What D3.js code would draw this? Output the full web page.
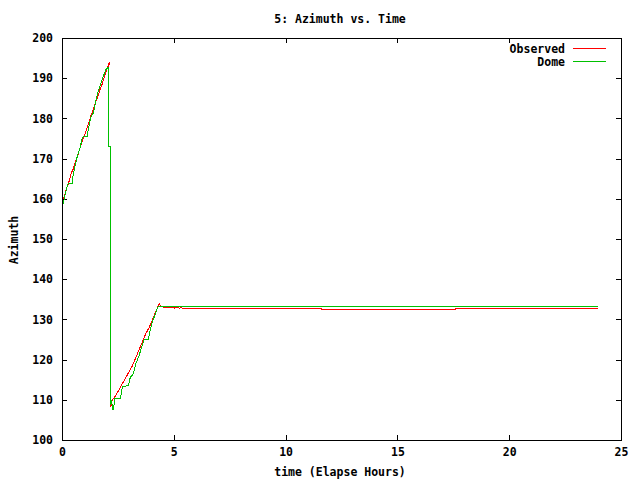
<!DOCTYPE html>
<html>
<head>
<meta charset="utf-8">
<script src="https://cdn.jsdelivr.net/npm/d3@7/dist/d3.min.js"></script>
<style>
html,body{margin:0;padding:0;background:#fff;}
svg text{font-family:"DejaVu Sans Mono","Liberation Mono",monospace;font-weight:bold;font-size:11.5px;fill:#000;}
</style>
</head>
<body>
<svg id="chart" width="640" height="480"></svg>
<script>
// ---- data ----
const title = "5: Azimuth vs. Time";
const xLabel = "time (Elapse Hours)";
const yLabel = "Azimuth";
const xTicks = [0, 5, 10, 15, 20, 25];
const yTicks = [100, 110, 120, 130, 140, 150, 160, 170, 180, 190, 200];
const seriesNames = ["Observed", "Dome"];

const obsTime = [0.00,0.10,0.20,0.30,0.40,0.50,0.60,0.70,0.80,0.90,1.00,1.10,1.20,1.30,1.40,1.50,1.60,1.70,1.80,1.90,2.00,2.08,2.12,
  2.07,2.07,2.16,2.16,2.19,2.19,2.16,2.16,2.19,2.19,2.25,2.40,2.55,2.70,2.85,3.00,3.15,3.30,3.45,3.60,3.75,3.90,4.05,4.20,4.35,4.42,4.60,5.00,5.05,5.10,5.20,5.25,5.30,5.40,5.50,11.60,11.60,17.60,17.60,23.96];
const obsAz = [159.6,160.6,162.6,164.0,166.2,167.4,169.2,170.6,172.6,174.2,175.8,177.2,179.0,180.8,182.2,184.0,185.4,187.2,188.6,190.4,192.0,193.4,194.1,
  192.0,173.0,173.0,132.6,132.6,130.0,130.0,111.7,111.7,108.3,110.0,111.0,112.5,114.0,115.5,117.0,118.5,120.5,122.5,124.5,126.5,128.0,130.0,132.0,134.0,133.2,133.0,133.0,132.75,133.0,133.0,132.75,133.0,132.75,132.75,132.75,132.5,132.5,132.75,132.75];

const domeTime = [0.00,0.10,0.18,0.28,0.45,0.50,0.58,0.68,0.80,0.90,0.95,1.12,1.20,1.30,1.40,1.48,1.58,1.70,1.82,1.95,2.05,2.07,2.07,2.16,2.16,2.22,2.26,2.30,2.37,2.62,2.70,2.97,3.05,3.19,3.30,3.45,3.55,3.68,3.86,3.95,4.05,4.15,4.25,4.31,23.96];
const domeAz = [157.5,160.0,162.0,163.9,163.9,166.0,168.0,170.5,172.5,175.0,175.4,175.4,178.0,180.5,181.3,183.5,186.0,188.0,190.0,192.0,192.7,192.7,172.9,172.9,108.8,110.0,107.6,107.6,110.4,110.4,113.3,113.5,115.5,116.5,119.0,121.0,123.0,125.0,125.0,127.5,129.5,131.0,132.5,133.3,133.3];

// ---- layout ----
const L = 62, R = 621, T = 38, B = 440;
const colors = ["#ff0000", "#00c000"];
const svg = d3.select("#chart");
const x = d3.scaleLinear().domain([0, 25]).range([L, R]);
const y = d3.scaleLinear().domain([100, 200]).range([B, T]);

// axes
const ax = svg.append("g").attr("shape-rendering", "crispEdges");
function styleAxis(g) {
  g.select(".domain").remove();
  g.selectAll("line").attr("stroke", "#000");
  g.selectAll("text").attr("font-family", null).attr("font-size", null).attr("fill", "#000");
}
ax.append("g").attr("transform", `translate(0,${B})`)
  .call(d3.axisBottom(x).tickValues(xTicks).tickSizeInner(-5).tickSizeOuter(0).tickPadding(8).tickFormat(d3.format("d")))
  .call(styleAxis);
ax.append("g").attr("transform", `translate(0,${T})`)
  .call(d3.axisTop(x).tickValues(xTicks).tickSizeInner(-5).tickSizeOuter(0).tickFormat(""))
  .call(styleAxis);
ax.append("g").attr("transform", `translate(${L},0)`)
  .call(d3.axisLeft(y).tickValues(yTicks).tickSizeInner(-5).tickSizeOuter(0).tickPadding(9).tickFormat(d3.format("d")))
  .call(styleAxis);
ax.append("g").attr("transform", `translate(${R},0)`)
  .call(d3.axisRight(y).tickValues(yTicks).tickSizeInner(-5).tickSizeOuter(0).tickFormat(""))
  .call(styleAxis);

// series
const line = d3.line().x(d => x(d[0])).y(d => y(d[1]));
const obs = obsTime.map((t, i) => [t, obsAz[i]]);
const dome = domeTime.map((t, i) => [t, domeAz[i]]);
[obs, dome].forEach((s, i) => {
  svg.append("path").datum(s).attr("d", line)
    .attr("fill", "none").attr("stroke", colors[i]).attr("stroke-width", 1)
    .attr("shape-rendering", "crispEdges");
});

// border
svg.append("rect").attr("x", L + 0.5).attr("y", T + 0.5).attr("width", R - L).attr("height", B - T)
  .attr("fill", "none").attr("stroke", "#000").attr("stroke-width", 1).attr("shape-rendering", "crispEdges");

// legend
seriesNames.forEach((n, i) => {
  const ly = 48 + i * 13;
  svg.append("text").attr("x", 565).attr("y", ly + 1).attr("dy", "0.35em").attr("text-anchor", "end").text(n);
  svg.append("line").attr("x1", 573).attr("x2", 606).attr("y1", ly + 0.5).attr("y2", ly + 0.5)
    .attr("stroke", colors[i]).attr("stroke-width", 1).attr("shape-rendering", "crispEdges");
});

// titles
svg.append("text").attr("x", 340).attr("y", 23).attr("text-anchor", "middle").text(title);
svg.append("text").attr("x", 340).attr("y", 476).attr("text-anchor", "middle").text(xLabel);
svg.append("text").attr("transform", "translate(18,240) rotate(-90)").attr("text-anchor", "middle").text(yLabel);
</script>
</body>
</html>
